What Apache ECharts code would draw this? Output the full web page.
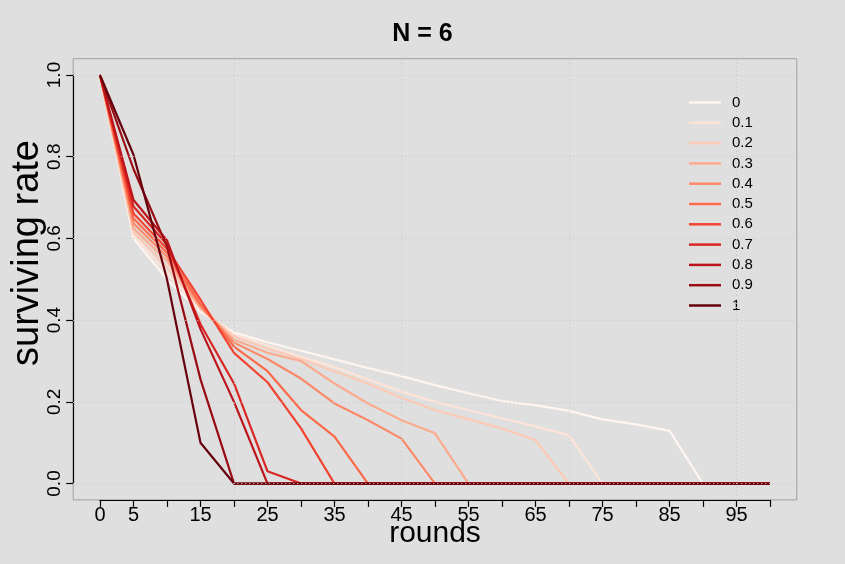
<!DOCTYPE html>
<html>
<head>
<meta charset="utf-8">
<script src="https://cdn.jsdelivr.net/npm/echarts@6/dist/echarts.min.js"></script>
<style>
  html, body { margin: 0; padding: 0; background: #dfdfdf; }
  #chart { width: 845px; height: 564px; }
</style>
</head>
<body>
<div id="chart"></div>
<script>
// rounds sampled every 5
const rounds = [0, 5, 10, 15, 20, 25, 30, 35, 40, 45, 50, 55, 60, 65, 70, 75, 80, 85, 90, 95, 100];

// surviving rate per round, one array per parameter value
const surv00 = [1, 0.600, 0.500, 0.420, 0.370, 0.346, 0.325, 0.304, 0.283, 0.263, 0.241, 0.221, 0.202, 0.192, 0.178, 0.157, 0.145, 0.129, 0, 0, 0];
const surv01 = [1, 0.608, 0.515, 0.425, 0.365, 0.338, 0.310, 0.285, 0.255, 0.225, 0.200, 0.180, 0.160, 0.140, 0.118, 0, 0, 0, 0, 0, 0];
const surv02 = [1, 0.616, 0.530, 0.430, 0.360, 0.330, 0.305, 0.275, 0.245, 0.210, 0.180, 0.157, 0.135, 0.106, 0, 0, 0, 0, 0, 0, 0];
const surv03 = [1, 0.625, 0.545, 0.430, 0.352, 0.320, 0.300, 0.245, 0.196, 0.155, 0.123, 0, 0, 0, 0, 0, 0, 0, 0, 0, 0];
const surv04 = [1, 0.637, 0.555, 0.435, 0.345, 0.305, 0.257, 0.196, 0.155, 0.110, 0, 0, 0, 0, 0, 0, 0, 0, 0, 0, 0];
const surv05 = [1, 0.649, 0.565, 0.440, 0.335, 0.275, 0.180, 0.115, 0, 0, 0, 0, 0, 0, 0, 0, 0, 0, 0, 0, 0];
const surv06 = [1, 0.661, 0.575, 0.450, 0.320, 0.248, 0.135, 0, 0, 0, 0, 0, 0, 0, 0, 0, 0, 0, 0, 0, 0];
const surv07 = [1, 0.678, 0.585, 0.390, 0.245, 0.030, 0, 0, 0, 0, 0, 0, 0, 0, 0, 0, 0, 0, 0, 0, 0];
const surv08 = [1, 0.694, 0.595, 0.378, 0.200, 0, 0, 0, 0, 0, 0, 0, 0, 0, 0, 0, 0, 0, 0, 0, 0];
const surv09 = [1, 0.770, 0.580, 0.255, 0, 0, 0, 0, 0, 0, 0, 0, 0, 0, 0, 0, 0, 0, 0, 0, 0];
const surv10 = [1, 0.805, 0.500, 0.100, 0, 0, 0, 0, 0, 0, 0, 0, 0, 0, 0, 0, 0, 0, 0, 0, 0];

const seriesNames = ['0', '0.1', '0.2', '0.3', '0.4', '0.5', '0.6', '0.7', '0.8', '0.9', '1'];
const seriesValues = [surv00, surv01, surv02, surv03, surv04, surv05, surv06, surv07, surv08, surv09, surv10];

// sequential red ramp, light to dark
const reds = ['#FFF5F0', '#FEE4D8', '#FDCAB5', '#FCAB8E', '#FC8A6A', '#FB6A4A',
              '#F14432', '#D92623', '#BC141A', '#990C13', '#67000D'];

// tick labels that are printed on the x axis (ticks every 5)
const xTickLabels = ['0', '5', '15', '25', '35', '45', '55', '65', '75', '85', '95'];
// dotted reference lines
const gridX = [20, 45, 70, 95];
const gridY = [0, 0.2, 0.4, 0.6, 0.8, 1.0];

const font = "'Liberation Sans', Arial, sans-serif";

const chart = echarts.init(document.getElementById('chart'));

const lineSeries = seriesNames.map((name, i) => ({
  name: name,
  type: 'line',
  xAxisIndex: 0,
  yAxisIndex: 0,
  data: rounds.map((r, j) => [r, seriesValues[i][j]]),
  symbol: 'none',
  showSymbol: false,
  lineStyle: { width: 2.2, color: reds[i] },
  itemStyle: { color: reds[i] },
  z: 2
}));

// grid lines drawn over the curves
lineSeries.push({
  name: 'grid',
  type: 'line',
  xAxisIndex: 0,
  yAxisIndex: 0,
  data: [],
  z: 10,
  markLine: {
    silent: true,
    symbol: 'none',
    label: { show: false },
    animation: false,
    lineStyle: { type: [1, 3], color: '#c6c6c6', width: 1 },
    data: gridX.map(v => ({ xAxis: v })).concat(gridY.map(v => ({ yAxis: v })))
  }
});

chart.setOption({
  animation: false,
  backgroundColor: '#dfdfdf',
  title: {
    text: 'N = 6',
    left: 'center',
    top: 17,
    textStyle: { fontFamily: font, fontWeight: 'bold', fontSize: 25, color: '#000' }
  },
  legend: {
    data: seriesNames,
    orient: 'vertical',
    left: 684,
    top: 90,
    icon: 'rect',
    itemWidth: 32,
    itemHeight: 2.5,
    itemGap: 5.3,
    textStyle: { fontFamily: font, fontSize: 15, lineHeight: 15, color: '#000', padding: [0, 0, 0, 6] }
  },
  grid: [
    // plotting region with frame
    { left: 73.2, top: 58.7, width: 723.6, height: 441.2, show: true, borderColor: '#a0a0a0', borderWidth: 1, backgroundColor: 'transparent' },
    // x axis ruler on the bottom edge of the frame
    { left: 100, top: 498.9, width: 670, height: 1 },
    // y axis ruler on the left edge of the frame
    { left: 73.2, top: 75, width: 1, height: 408.5 }
  ],
  xAxis: [
    { gridIndex: 0, type: 'value', min: -4, max: 104, show: false },
    {
      gridIndex: 1, type: 'value', min: 0, max: 100, interval: 5,
      axisLine: { show: true, lineStyle: { color: '#000', width: 1.2 } },
      axisTick: { show: true, length: 7, lineStyle: { color: '#000', width: 1.2 } },
      splitLine: { show: false },
      axisLabel: {
        show: true, margin: 6, color: '#000', fontFamily: font, fontSize: 20,
        formatter: v => (xTickLabels.indexOf(String(v)) >= 0 ? String(v) : '')
      }
    },
    { gridIndex: 2, type: 'value', min: 0, max: 1, show: false }
  ],
  yAxis: [
    { gridIndex: 0, type: 'value', min: -0.04, max: 1.04, show: false },
    { gridIndex: 1, type: 'value', min: 0, max: 1, show: false },
    {
      gridIndex: 2, type: 'value', min: 0, max: 1, interval: 0.2,
      axisLine: { show: true, lineStyle: { color: '#000', width: 1.2 } },
      axisTick: { show: true, length: 7, lineStyle: { color: '#000', width: 1.2 } },
      splitLine: { show: false },
      axisLabel: {
        show: true, rotate: 90, margin: 9, color: '#000', fontFamily: font, fontSize: 19,
        formatter: v => v.toFixed(1)
      }
    }
  ],
  graphic: [{
    type: 'text',
    x: 28,
    y: 253,
    rotation: Math.PI / 2,
    style: {
      text: 'surviving rate',
      fontFamily: font,
      fontSize: 38,
      fill: '#000',
      textAlign: 'center',
      textVerticalAlign: 'middle'
    }
  }, {
    type: 'text',
    x: 435,
    y: 534,
    style: {
      text: 'rounds',
      fontFamily: font,
      fontSize: 30,
      fill: '#000',
      textAlign: 'center',
      textVerticalAlign: 'middle'
    }
  }],
  series: lineSeries
});
</script>
</body>
</html>
